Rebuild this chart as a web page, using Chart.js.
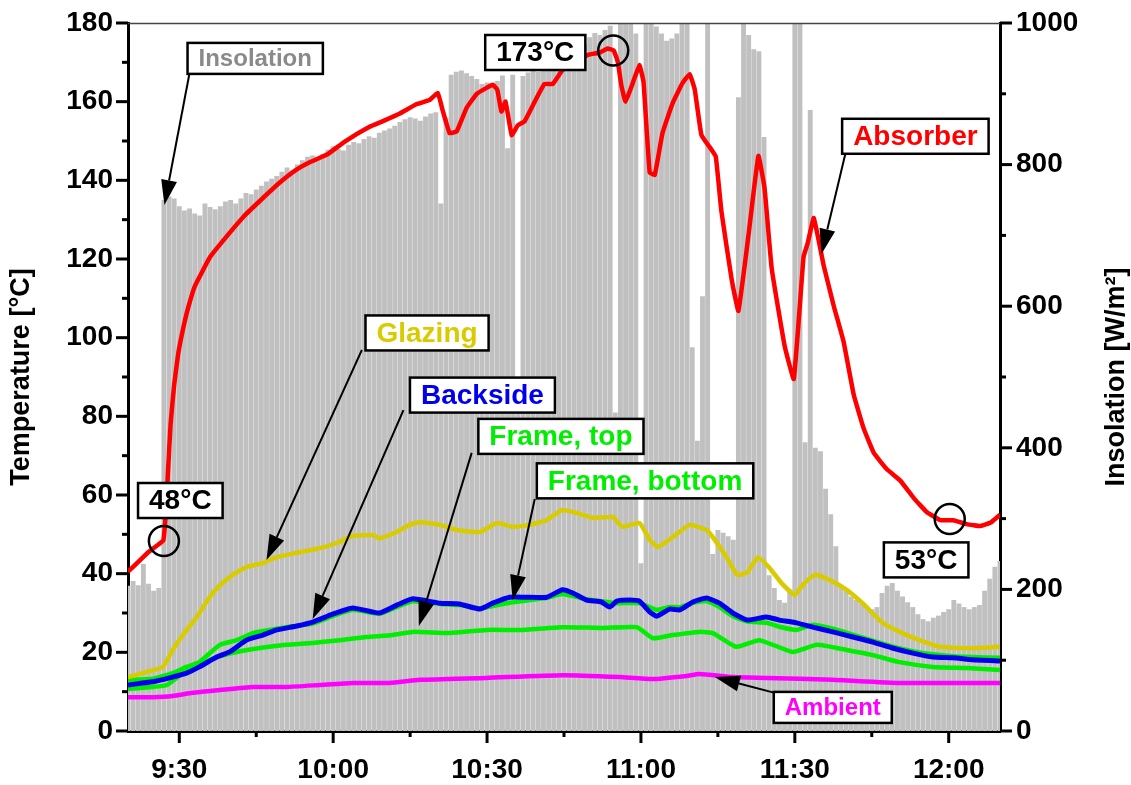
<!DOCTYPE html>
<html>
<head>
<meta charset="utf-8">
<script src="https://cdn.jsdelivr.net/npm/chart.js@4.4.1/dist/chart.umd.min.js"></script>
<style>
  html, body { margin: 0; padding: 0; background: #fff; }
  canvas { display: block; }
</style>
</head>
<body>
<canvas id="collectorChart" width="1131" height="785"></canvas>
<script>
// time axis: minutes after the first sample
const startTime = "9:20";
const endTime = "12:10";
const tickTimes = ["9:30", "10:00", "10:30", "11:00", "11:30", "12:00"];
const minorTickTimes = ["9:45", "10:15", "10:45", "11:15", "11:45"];

// insolation [W/m2], one bar per minute from 9:20
const insolation = [
  205, 212, 206, 236, 208, 198, 202, 750, 755, 752,
  741, 735, 738, 731, 728, 745, 740, 737, 741, 748,
  750, 745, 752, 760, 758, 765, 770, 776, 780, 784,
  790, 796, 792, 800, 806, 811, 813, 808, 815, 821,
  826, 822, 820, 828, 832, 830, 836, 840, 838, 845,
  848, 851, 855, 860, 864, 867, 865, 862, 868, 872,
  874, 745, 866, 927, 931, 933, 929, 925, 921, 914,
  916, 912, 918, 926, 823, 927, 500, 925, 930, 934,
  931, 937, 940, 944, 942, 948, 951, 955, 962, 970,
  980, 986, 983, 990, 996, 450, 1020, 1020, 1020, 985,
  237, 1020, 1020, 995, 985, 975, 978, 985, 1020, 1020,
  542, 410, 614, 1020, 250, 284, 280, 275, 270, 895,
  1020, 983, 963, 960, 839, 220, 202, 185, 181, 200,
  1020, 1020, 408, 877, 400, 395, 342, 306, 261, 206,
  198, 190, 185, 180, 175, 172, 175, 195, 205, 209,
  198, 190, 182, 175, 165, 158, 155, 160, 163, 168,
  172, 185, 180, 175, 172, 175, 178, 198, 215, 232, 240
];

// temperatures [°C], time in minutes after 9:20
const absorberTime = [0, 2, 4, 6, 6.9, 7.4, 7.8, 8.3, 9, 9.8, 10.7, 11.6, 13, 16, 19.4, 22.7, 25.9, 29.2, 32.5, 35.6, 39, 42.2, 47.1, 49.6, 53, 56.3, 58.8, 60.4, 61.3, 62.7, 64.1, 66, 68, 69.9, 71.1, 72, 72.8, 73.6, 74.8, 76, 77.3, 79.3, 81.2, 82.8, 84.7, 87.5, 90, 92, 93.5, 94.7, 95.5, 96.2, 97, 98.4, 99.7, 100.5, 101.7, 102.7, 104.2, 106.2, 108.1, 109.5, 110.5, 111.8, 113.8, 114.6, 115.7, 117.7, 119, 121, 122.9, 124.1, 125.5, 128, 129.8, 131.7, 132.5, 133.7, 135.6, 137.6, 139.5, 141.5, 143.4, 145.4, 147.9, 150.6, 153.2, 155.7, 158.4, 160.9, 163.5, 166.2, 168.2, 170];
const absorberTemp = [40.5, 43, 45.5, 47.5, 48.5, 56, 66, 78, 88, 96, 102, 107, 113, 120.5, 126, 131, 135, 139, 142.4, 144.7, 146.7, 149.8, 153.6, 155, 157, 159.4, 160.4, 162.2, 158, 152, 152.5, 158.4, 162, 163.5, 164.3, 163, 157.5, 160, 151.5, 154, 155, 160, 164.5, 164.5, 168, 170.6, 172, 172.5, 173.5, 173, 170, 164, 160, 164.7, 169.3, 165, 142, 141.4, 152, 159.7, 164.7, 167, 163, 151.5, 147.7, 146, 132, 114.7, 106.8, 126.4, 146.2, 138, 117.5, 98, 89.5, 120.5, 124, 130.4, 118.5, 108, 99, 85.4, 77, 70.7, 66.6, 63.6, 59.2, 55.7, 53.6, 53.6, 52.6, 52.1, 53, 55];

const glazingTime = [0, 3.6, 6.8, 8.7, 10.7, 13.4, 15.9, 17.9, 20.4, 23.1, 26.3, 29, 32.9, 37.4, 40.7, 43.8, 47.7, 49, 52.4, 54.9, 56.9, 60.8, 64.1, 68.6, 71.9, 75, 78.3, 81.6, 84.7, 87.5, 90.6, 94.5, 96.4, 99.7, 101.7, 103.3, 106.2, 109.5, 112.8, 114, 116.7, 118.8, 120.8, 122.8, 125.1, 127.4, 130, 131.5, 133.9, 136.8, 140.1, 143.2, 147.1, 150.4, 154.3, 158.2, 162.1, 166, 170];
const glazingTemp = [13.7, 15, 16.3, 20.6, 24.4, 29, 34, 37, 39.7, 41.7, 42.7, 44.2, 45.3, 46.5, 47.8, 49.6, 49.8, 49, 50.6, 52.4, 53.1, 52.4, 51.1, 50.6, 52.9, 51.9, 52.4, 53.6, 56.2, 55.4, 54.2, 54.4, 51.9, 52.9, 48.6, 46.8, 49.3, 52.4, 51.1, 49.3, 44.2, 39.7, 40.4, 44.2, 41.4, 37.6, 34.6, 37.1, 39.7, 38.4, 35.9, 32.5, 27.5, 25.2, 23.1, 21.4, 21.1, 21.1, 21.4];

const backsideTime = [0, 4.8, 8.1, 11.4, 13.9, 17.3, 19.8, 23.1, 26.3, 29, 32.9, 36, 39.9, 43.8, 49, 52.4, 55.5, 60.8, 64.6, 68.6, 71.1, 74.4, 77.7, 81.6, 84.7, 86.7, 89.4, 92.3, 93.9, 95.3, 97.8, 99.7, 101.7, 103.1, 105.6, 107.6, 110.1, 112.8, 115.3, 117.9, 120.8, 124.5, 127, 130.3, 133.5, 137.4, 141.3, 145.2, 149, 153, 156.9, 160.8, 164.7, 170];
const backsideTemp = [11.7, 12.5, 13.5, 14.7, 16.3, 18.8, 20.1, 23.1, 24.4, 25.7, 26.7, 27.7, 29.7, 31.3, 30, 32, 33.6, 32.5, 32.3, 31, 32.5, 34, 34, 34, 35.9, 35.1, 33.3, 32.8, 31.5, 33, 33.3, 33, 30.3, 29.2, 31, 30.8, 32.8, 33.8, 32.5, 30, 28.2, 29, 28.2, 27.5, 26.4, 25.2, 23.9, 22.6, 21.1, 19.8, 18.8, 18.6, 18.1, 17.8];

const frameTopTime = [0, 4.8, 8.7, 11.4, 13.9, 17.9, 21.2, 24.3, 27.6, 30.9, 36, 39.9, 43.8, 49, 52.4, 55.5, 60.8, 64.6, 68.6, 71.1, 74.4, 77.7, 81.6, 84.7, 89.4, 92.3, 95.3, 99.7, 101.7, 103.1, 105.6, 107.6, 110.1, 112.8, 115.3, 117.9, 120.8, 124.5, 127, 130.3, 133.5, 137.4, 141.3, 145.2, 149, 153, 156.9, 160.8, 164.7, 170];
const frameTopTemp = [13, 13.3, 14.7, 16.3, 17.5, 21.9, 23.1, 24.9, 25.7, 26.4, 27.3, 29.2, 30.8, 29.8, 31.5, 33, 32.3, 32, 31.2, 31.8, 32.6, 33.2, 33.8, 34.8, 33.5, 33, 32.5, 32.5, 31.5, 30.8, 31.5, 31.5, 32.5, 33, 31.5, 29.2, 27.8, 27.5, 26.5, 25.7, 27, 26, 24.5, 23, 21.5, 20.3, 19.5, 19, 18.8, 18.6];

const frameBottomTime = [0, 4.8, 7.6, 10.7, 13.9, 17.3, 21.2, 25.7, 30.9, 36, 41.3, 46.5, 51.6, 55.5, 62.7, 69.9, 76.4, 84.7, 92.5, 99.2, 102.3, 106.2, 111.4, 114, 118.6, 123.1, 129.6, 134.3, 140.1, 145.2, 150.4, 156.9, 163.5, 170];
const frameBottomTemp = [10.7, 11.2, 11.7, 14.7, 16.8, 18.8, 20.1, 21.1, 21.9, 22.4, 23.1, 23.9, 24.4, 25.2, 24.9, 25.7, 25.7, 26.4, 26.2, 26.4, 23.6, 24.4, 25.2, 24.9, 21.4, 23.1, 20.1, 21.9, 20.6, 19.3, 17.5, 16.3, 16, 15.5];

const ambientTime = [0, 4.8, 8.7, 12.6, 17.9, 24.3, 30.9, 37.4, 43.8, 50.4, 56.9, 69.9, 84.7, 95.9, 102.3, 108.9, 111.4, 117.9, 124.5, 137.4, 150.4, 170];
const ambientTemp = [8.6, 8.6, 8.9, 9.7, 10.4, 11.2, 11.2, 11.7, 12.2, 12.2, 13, 13.5, 14.2, 13.7, 13.2, 14, 14.5, 13.7, 13.5, 13, 12.2, 12.2];

// annotations, placed in data units (minutes after 9:20, °C)
const labelBoxes = [
  { text: "Insolation", color: "#8a8a8a", size: 24, at: [24.8, 171.0] },
  { text: "173°C", color: "#000", size: 28, at: [79.4, 172.5] },
  { text: "48°C", color: "#000", size: 28, at: [10.2, 58.6] },
  { text: "53°C", color: "#000", size: 28, at: [155.6, 43.5] },
  { text: "Glazing", color: "#d8cb00", size: 28, at: [58.3, 101.2] },
  { text: "Backside", color: "#0000ee", size: 28, at: [69.1, 85.4] },
  { text: "Frame, top", color: "#00ee00", size: 28, at: [84.4, 74.9] },
  { text: "Frame, bottom", color: "#00ee00", size: 28, at: [100.8, 63.6] },
  { text: "Absorber", color: "#ff0000", size: 28, at: [153.5, 151.2] },
  { text: "Ambient", color: "#ff00ff", size: 24, at: [137.4, 6.0] }
];
const arrows = [
  { from: [12.0, 167.3], to: [7.1, 133.7] },
  { from: [45.6, 96.9], to: [27.0, 43.5] },
  { from: [53.7, 81.6], to: [36.0, 28.5] },
  { from: [67.0, 70.7], to: [56.7, 26.7] },
  { from: [79.3, 59.0], to: [75.0, 33.3] },
  { from: [139.9, 147.0], to: [135.2, 121.3] },
  { from: [126.1, 9.7], to: [114.4, 13.7] }
];
const circles = [[7.0, 48.3], [94.6, 173.0], [160.2, 53.9]];

const FONT = '"Liberation Sans", Arial, Helvetica, sans-serif';

function toMinutes(t) {
  const [h, m] = t.split(":").map(Number);
  const [h0, m0] = startTime.split(":").map(Number);
  return h * 60 + m - (h0 * 60 + m0);
}
function toClock(v) {
  const [h0, m0] = startTime.split(":").map(Number);
  const total = h0 * 60 + m0 + Math.round(v);
  return Math.floor(total / 60) + ":" + String(total % 60).padStart(2, "0");
}
function pairs(xs, ys) {
  return xs.map((x, i) => ({ x: x, y: ys[i] }));
}

const decorations = {
  id: "decorations",
  afterDraw(chart) {
    const { ctx, chartArea: a, scales } = chart;
    const X = (v) => scales.x.getPixelForValue(v);
    const Y = (v) => scales.y.getPixelForValue(v);
    ctx.save();

    // thin frame on top
    ctx.strokeStyle = "#444";
    ctx.lineWidth = 1.5;
    ctx.beginPath();
    ctx.moveTo(a.left, a.top + 0.5);
    ctx.lineTo(a.right, a.top + 0.5);
    ctx.stroke();

    // tick marks
    ctx.strokeStyle = "#000";
    ctx.lineWidth = 3;
    const tick = (x1, y1, x2, y2) => {
      ctx.beginPath(); ctx.moveTo(x1, y1); ctx.lineTo(x2, y2); ctx.stroke();
    };
    tickTimes.forEach((t) => { const x = X(toMinutes(t)); tick(x, a.bottom, x, a.bottom + 12); });
    minorTickTimes.forEach((t) => { const x = X(toMinutes(t)); tick(x, a.bottom, x, a.bottom + 6); });
    const yt = scales.y.ticks.map((t) => t.value);
    yt.forEach((v, i) => {
      tick(a.left, Y(v), a.left - 12, Y(v));
      if (i > 0) { const m = Y((v + yt[i - 1]) / 2); tick(a.left, m, a.left - 6, m); }
    });
    const rt = scales.y1.ticks.map((t) => t.value);
    rt.forEach((v, i) => {
      const p = scales.y1.getPixelForValue(v);
      tick(a.right, p, a.right + 12, p);
      if (i > 0) { const m = scales.y1.getPixelForValue((v + rt[i - 1]) / 2); tick(a.right, m, a.right + 6, m); }
    });

    // right axis title, reading upwards like the left one
    ctx.save();
    ctx.translate(a.right + 117, (a.top + a.bottom) / 2);
    ctx.rotate(-Math.PI / 2);
    ctx.font = "bold 27px " + FONT;
    ctx.fillStyle = "#000";
    ctx.textAlign = "center";
    ctx.textBaseline = "middle";
    ctx.fillText("Insolation [W/m²]", 0, 0);
    ctx.restore();

    // circles
    ctx.lineWidth = 2.5;
    circles.forEach(([m, t]) => {
      ctx.beginPath();
      ctx.arc(X(m), Y(t), 15, 0, Math.PI * 2);
      ctx.stroke();
    });

    // arrows
    ctx.lineWidth = 2;
    ctx.fillStyle = "#000";
    arrows.forEach(({ from, to }) => {
      const x1 = X(from[0]), y1 = Y(from[1]), x2 = X(to[0]), y2 = Y(to[1]);
      const ang = Math.atan2(y2 - y1, x2 - x1);
      const L = 25, W = 8;
      const bx = x2 - L * Math.cos(ang), by = y2 - L * Math.sin(ang);
      ctx.beginPath(); ctx.moveTo(x1, y1); ctx.lineTo(bx, by); ctx.stroke();
      ctx.beginPath();
      ctx.moveTo(x2, y2);
      ctx.lineTo(bx + W * Math.sin(ang), by - W * Math.cos(ang));
      ctx.lineTo(bx - W * Math.sin(ang), by + W * Math.cos(ang));
      ctx.closePath();
      ctx.fill();
    });

    // label boxes
    labelBoxes.forEach((b) => {
      ctx.font = "bold " + b.size + "px " + FONT;
      const w = ctx.measureText(b.text).width + 22;
      const h = b.size + 7;
      const cx = X(b.at[0]), cy = Y(b.at[1]);
      ctx.fillStyle = "#fff";
      ctx.fillRect(cx - w / 2, cy - h / 2, w, h);
      ctx.strokeStyle = "#000";
      ctx.lineWidth = 2.5;
      ctx.strokeRect(cx - w / 2, cy - h / 2, w, h);
      ctx.fillStyle = b.color;
      ctx.textAlign = "center";
      ctx.textBaseline = "middle";
      ctx.fillText(b.text, cx, cy + 1);
    });
    ctx.restore();
  }
};

const lineStyle = { type: "line", yAxisID: "y", pointRadius: 0, borderWidth: 4.5, fill: false, tension: 0.15 };
const tickFont = { family: FONT, size: 28, weight: "bold" };

new Chart(document.getElementById("collectorChart").getContext("2d"), {
  type: "bar",
  data: {
    datasets: [
      { ...lineStyle, label: "Absorber", data: pairs(absorberTime, absorberTemp), borderColor: "#ff0000", order: 0, tension: 0.1 },
      { ...lineStyle, label: "Glazing", data: pairs(glazingTime, glazingTemp), borderColor: "#d8cb00", order: 1 },
      { ...lineStyle, label: "Backside", data: pairs(backsideTime, backsideTemp), borderColor: "#0000ee", order: 2, borderWidth: 5 },
      { ...lineStyle, label: "Frame, top", data: pairs(frameTopTime, frameTopTemp), borderColor: "#00ee00", order: 3 },
      { ...lineStyle, label: "Frame, bottom", data: pairs(frameBottomTime, frameBottomTemp), borderColor: "#00ee00", order: 4 },
      { ...lineStyle, label: "Ambient", data: pairs(ambientTime, ambientTemp), borderColor: "#ff00ff", order: 5 },
      {
        type: "bar",
        label: "Insolation",
        yAxisID: "y1",
        data: insolation.map((v, i) => ({ x: i, y: v })),
        backgroundColor: "#c0c0c0",
        barPercentage: 0.95,
        categoryPercentage: 1.0,
        order: 10
      }
    ]
  },
  options: {
    responsive: false,
    devicePixelRatio: 1,
    animation: false,
    layout: { padding: { top: 23, left: 0, right: 0, bottom: 0 } },
    plugins: { legend: { display: false }, tooltip: { enabled: false } },
    scales: {
      x: {
        type: "linear",
        offset: false,
        min: toMinutes(startTime),
        max: toMinutes(endTime),
        afterBuildTicks: (scale) => { scale.ticks = tickTimes.map((t) => ({ value: toMinutes(t) })); },
        afterFit: (scale) => { scale.height = 54; },
        grid: { display: false, drawTicks: true, tickLength: 12 },
        border: { display: true, color: "#000", width: 3 },
        ticks: { color: "#000", font: tickFont, padding: 10, maxRotation: 0, callback: (v) => toClock(v) }
      },
      y: {
        position: "left",
        min: 0,
        max: 180,
        afterFit: (scale) => { scale.width = 128; },
        grid: { display: false, drawTicks: true, tickLength: 12 },
        border: { display: true, color: "#000", width: 3 },
        ticks: { color: "#000", font: tickFont, stepSize: 20, padding: 3 },
        title: { display: true, text: "Temperature [°C]", color: "#000", font: { family: FONT, size: 27, weight: "bold" }, padding: { top: 5, bottom: 0 } }
      },
      y1: {
        position: "right",
        min: 0,
        max: 1000,
        afterFit: (scale) => { scale.width = 131; },
        grid: { display: false, drawTicks: true, tickLength: 12 },
        border: { display: true, color: "#000", width: 3 },
        ticks: { color: "#000", font: tickFont, stepSize: 200, padding: 4, callback: (v) => String(v) }
      }
    }
  },
  plugins: [decorations]
});
</script>
</body>
</html>
